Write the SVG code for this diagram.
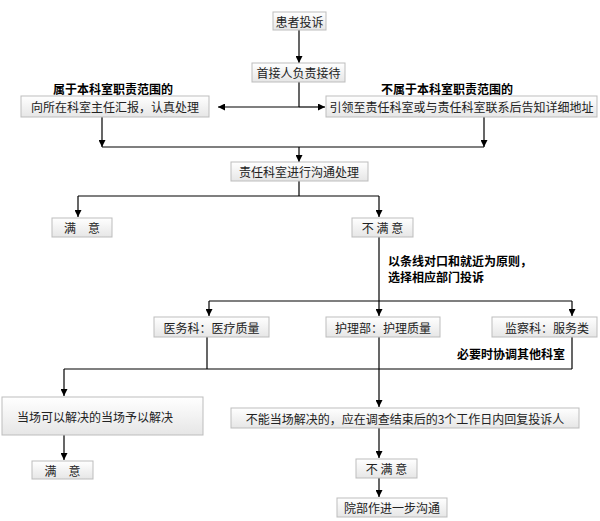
<svg xmlns="http://www.w3.org/2000/svg" width="600" height="521" viewBox="0 0 600 521">
<defs>
<linearGradient id="bg" x1="0" y1="0" x2="0" y2="1">
<stop offset="0" stop-color="#ffffff"/>
<stop offset="1" stop-color="#e6e6e6"/>
</linearGradient>
<marker id="ah" viewBox="0 0 8 8" refX="8" refY="4" markerWidth="7" markerHeight="7" markerUnits="userSpaceOnUse" orient="auto">
<path d="M0,0 L8,4 L0,8 z" fill="#000"/>
</marker>
<style>
.box{fill:url(#bg);stroke:#bdbdbd;stroke-width:1}
.t{font-family:"Noto Sans CJK SC","Liberation Sans",sans-serif;font-size:12px;fill:#222;dominant-baseline:central}
.c{text-anchor:middle}
.lbl{font-family:"Noto Sans CJK SC","Liberation Sans",sans-serif;font-size:12px;fill:#000;font-weight:bold;dominant-baseline:central}
.ln{fill:none;stroke:#000;stroke-width:1.2}
.ar{fill:none;stroke:#000;stroke-width:1.2;marker-end:url(#ah)}
</style>
</defs>
<rect width="600" height="521" fill="#fff"/>

<g id="connectors">
<path class="ar" d="M299,30 V63"/>
<path class="ln" d="M299,82 V107"/>
<path class="ar" d="M299,107 H218"/>
<path class="ar" d="M299,107 H325"/>
<path class="ar" d="M102,117 V147"/>
<path class="ar" d="M484,117 V147"/>
<path class="ln" d="M102,147 H484"/>
<path class="ar" d="M299,147 V162"/>
<path class="ln" d="M299,181 V196"/>
<path class="ln" d="M78,196 H379"/>
<path class="ar" d="M78,196 V217"/>
<path class="ar" d="M379,196 V217"/>
<path class="ln" d="M379,237 V301"/>
<path class="ln" d="M209,301 H572"/>
<path class="ar" d="M209,301 V316"/>
<path class="ar" d="M379,301 V316"/>
<path class="ar" d="M572,301 V316"/>
<path class="ln" d="M207,337 V369"/>
<path class="ln" d="M572,337 V369"/>
<path class="ln" d="M64,369 H572"/>
<path class="ar" d="M64,369 V396"/>
<path class="ar" d="M379,337 V407"/>
<path class="ar" d="M64,435 V460"/>
<path class="ar" d="M379,428 V458"/>
<path class="ar" d="M379,478 V497"/>
</g>

<g id="n1"><rect class="box" x="273" y="12" width="53" height="18"/><text class="t c" x="299.5" y="21">患者投诉</text></g>
<g id="n2"><rect class="box" x="252" y="63" width="93" height="19"/><text class="t c" x="298.5" y="72.5">首接人负责接待</text></g>
<g id="lbl1"><text class="lbl c" x="113" y="88">属于本科室职责范围的</text></g>
<g id="lbl2"><text class="lbl c" x="447" y="88">不属于本科室职责范围的</text></g>
<g id="n3"><rect class="box" x="21" y="96" width="188" height="21"/><text class="t c" x="115" y="106.5">向所在科室主任汇报，认真处理</text></g>
<g id="n4"><rect class="box" x="326" y="96" width="271" height="21"/><text class="t c" x="461.5" y="106.5">引领至责任科室或与责任科室联系后告知详细地址</text></g>
<g id="n5"><rect class="box" x="231" y="162" width="137" height="19"/><text class="t c" x="299" y="171.5">责任科室进行沟通处理</text></g>
<g id="n6"><rect class="box" x="52" y="218" width="60" height="19"/><text class="t c" x="82" y="227.5">满　意</text></g>
<g id="n7"><rect class="box" x="352" y="218" width="61" height="19"/><text class="t c" x="382.5" y="227.5" xml:space="preserve">不 满 意</text></g>
<g id="lbl3"><text class="lbl" x="388" y="260">以条线对口和就近为原则，</text><text class="lbl" x="388" y="276">选择相应部门投诉</text></g>
<g id="n8"><rect class="box" x="154" y="317" width="115" height="20"/><text class="t c" x="211.5" y="327">医务科：医疗质量</text></g>
<g id="n9"><rect class="box" x="326" y="317" width="114" height="20"/><text class="t c" x="383" y="327">护理部：护理质量</text></g>
<g id="n10"><rect class="box" x="492" y="317" width="105" height="20"/><text class="t c" x="547" y="327">监察科：服务类</text></g>
<g id="lbl4"><text class="lbl" x="457" y="353">必要时协调其他科室</text></g>
<g id="n11"><rect class="box" x="2" y="397" width="201" height="38"/><text class="t" x="17" y="416.5">当场可以解决的当场予以解决</text></g>
<g id="n12"><rect class="box" x="231" y="408" width="348" height="20"/><text class="t c" x="405" y="418">不能当场解决的，应在调查结束后的3个工作日内回复投诉人</text></g>
<g id="n13"><rect class="box" x="32" y="461" width="61" height="18"/><text class="t c" x="62.5" y="470">满　意</text></g>
<g id="n14"><rect class="box" x="356" y="459" width="61" height="19"/><text class="t c" x="386.5" y="468.5" xml:space="preserve">不 满 意</text></g>
<g id="n15"><rect class="box" x="337" y="498" width="110" height="19"/><text class="t c" x="392" y="507.5">院部作进一步沟通</text></g>
</svg>
